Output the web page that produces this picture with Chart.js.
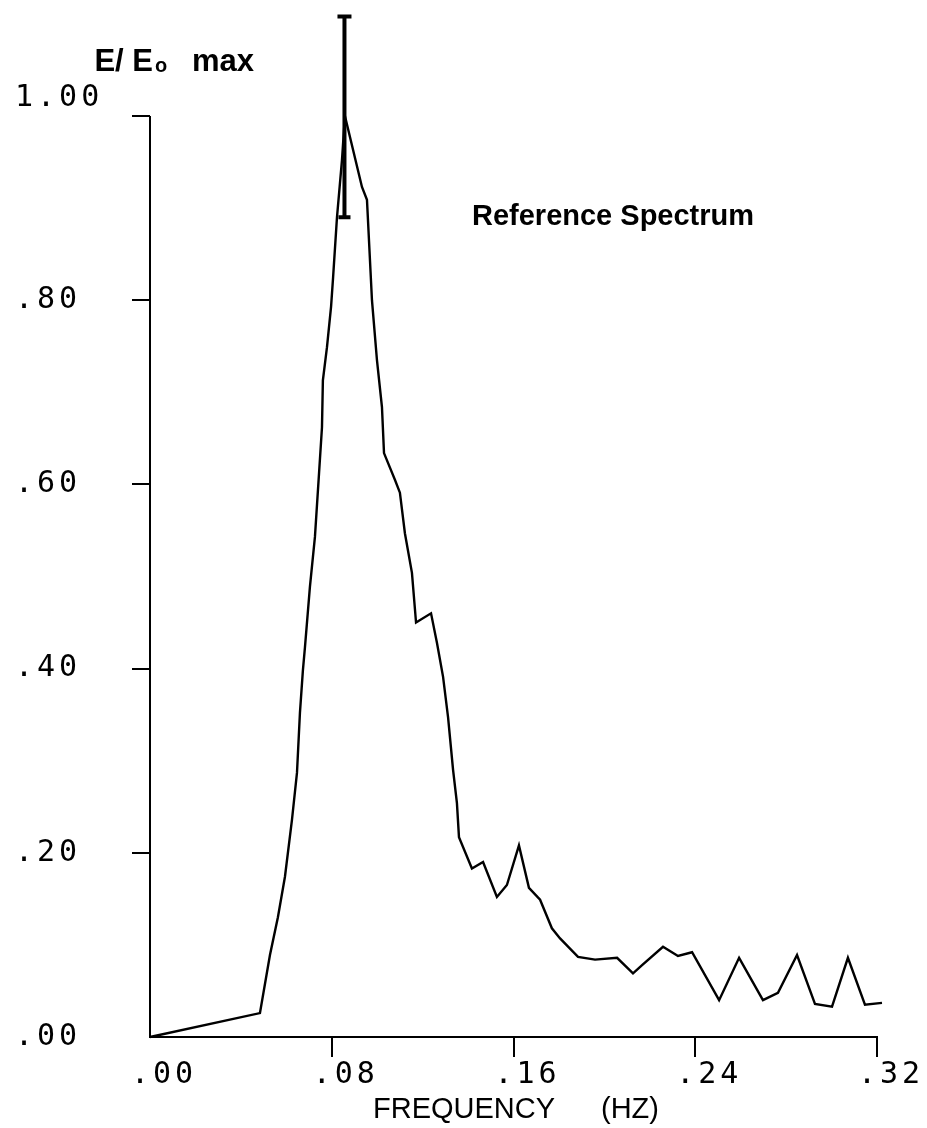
<!DOCTYPE html>
<html>
<head>
<meta charset="utf-8">
<script src="https://cdn.jsdelivr.net/npm/chart.js@4/dist/chart.umd.min.js"></script>
<style>
body { margin: 0; background: #fff; }
canvas { display: block; }
</style>
</head>
<body>
<canvas id="spec" width="927" height="1128"></canvas>
<script>
// frequency (Hz) and normalised energy E/Eo max
const freqs = [0.000, 0.0484, 0.0528, 0.0563, 0.0594, 0.0625, 0.0647, 0.0660, 0.0673, 0.0682,
  0.0704, 0.0726, 0.0744, 0.0757, 0.0761, 0.0779, 0.0797, 0.0806, 0.0823, 0.0845,
  0.0858, 0.0933, 0.0955, 0.0977, 0.0999, 0.1021, 0.1030, 0.1078, 0.1100, 0.1122,
  0.1153, 0.1171, 0.1237, 0.1263, 0.1290, 0.1312, 0.1334, 0.1351, 0.1360, 0.1417,
  0.1466, 0.1527, 0.1571, 0.1624, 0.1668, 0.1717, 0.1769, 0.1805, 0.1884, 0.1959,
  0.2056, 0.2126, 0.2166, 0.2258, 0.2324, 0.2386, 0.2505, 0.2593, 0.2698, 0.2764,
  0.2848, 0.2927, 0.3002, 0.3072, 0.3147, 0.3222];
const energy = [0.000, 0.026, 0.089, 0.130, 0.174, 0.236, 0.287, 0.352, 0.398, 0.423,
  0.489, 0.543, 0.612, 0.662, 0.713, 0.749, 0.793, 0.825, 0.890, 0.952,
  1.000, 0.923, 0.909, 0.800, 0.735, 0.684, 0.634, 0.605, 0.591, 0.547,
  0.504, 0.450, 0.460, 0.428, 0.391, 0.347, 0.290, 0.254, 0.217, 0.183,
  0.190, 0.152, 0.165, 0.208, 0.162, 0.149, 0.118, 0.107, 0.087, 0.084,
  0.086, 0.069, 0.078, 0.098, 0.088, 0.092, 0.040, 0.086, 0.040, 0.048,
  0.089, 0.036, 0.033, 0.086, 0.035, 0.037];

const xTicks = [0, 0.08, 0.16, 0.24, 0.32];
const yTicks = [0, 0.2, 0.4, 0.6, 0.8, 1.0];

// confidence bar at the spectral peak
const errFreq = 0.0856;
const errLow = 0.89;
const errHigh = 1.108;

const fmt = v => v >= 1 ? "1.00" : "." + String(Math.round(v * 100)).padStart(2, "0");

const tickFont = { family: "DejaVu Sans Mono", size: 30 };

const extras = {
  id: "extras",
  beforeDraw(chart) {
    chart.ctx.letterSpacing = "4px";
  },
  afterDraw(chart) {
    const ctx = chart.ctx;
    const x = chart.scales.x, y = chart.scales.y;
    ctx.save();
    ctx.letterSpacing = "0px";
    ctx.strokeStyle = "#000";
    ctx.fillStyle = "#000";

    // y axis line only from 0 to 1.00
    ctx.lineWidth = 2;
    ctx.beginPath();
    ctx.moveTo(x.left, y.getPixelForValue(0));
    ctx.lineTo(x.left, y.getPixelForValue(1));
    ctx.stroke();

    // error bar
    const ex = x.getPixelForValue(errFreq);
    const et = y.getPixelForValue(errHigh), eb = y.getPixelForValue(errLow);
    ctx.lineWidth = 4;
    ctx.beginPath();
    ctx.moveTo(ex, et); ctx.lineTo(ex, eb);
    ctx.moveTo(ex - 7, et); ctx.lineTo(ex + 7, et);
    ctx.moveTo(ex - 6, eb); ctx.lineTo(ex + 6, eb);
    ctx.stroke();

    // text
    ctx.textBaseline = "alphabetic";
    ctx.textAlign = "left";
    ctx.font = "bold 29px 'Liberation Sans'";
    ctx.fillText("Reference Spectrum", 472, 225);

    ctx.font = "bold 31px 'Liberation Sans'";
    const w = ctx.measureText("E/ E").width;
    ctx.fillText("E/ E", 153 - w, 71);
    ctx.font = "bold 20px 'Liberation Sans'";
    ctx.fillText("o", 155, 72);
    ctx.font = "bold 31px 'Liberation Sans'";
    ctx.fillText("max", 192, 71);

    ctx.font = "29px 'Liberation Sans'";
    ctx.fillText("FREQUENCY", 373, 1118);
    ctx.fillText("(HZ)", 601, 1118);
    ctx.restore();
  }
};

new Chart(document.getElementById("spec"), {
  type: "scatter",
  data: {
    datasets: [{
      data: freqs.map((f, i) => ({ x: f, y: energy[i] })),
      showLine: true,
      borderColor: "#000",
      borderWidth: 2.4,
      pointRadius: 0,
      tension: 0,
      clip: 12
    }]
  },
  options: {
    responsive: false,
    animation: false,
    events: [],
    layout: { padding: { top: 24, right: 50, left: 15, bottom: 0 } },
    plugins: { legend: { display: false }, tooltip: { enabled: false } },
    scales: {
      x: {
        type: "linear",
        min: 0,
        max: 0.32,
        afterBuildTicks: s => { s.ticks = xTicks.map(v => ({ value: v })); },
        afterFit: s => { s.height = 91; },
        border: { display: true, color: "#000", width: 2 },
        grid: {
          drawOnChartArea: false,
          tickLength: 20,
          lineWidth: 2,
          tickColor: c => c.tick && c.tick.value === 0 ? "rgba(0,0,0,0)" : "#000"
        },
        ticks: {
          color: "#000",
          font: tickFont,
          padding: 0,
          labelOffset: 14,
          maxRotation: 0,
          autoSkip: false,
          callback: v => fmt(v)
        }
      },
      y: {
        min: 0,
        max: 1.0836,
        afterBuildTicks: s => { s.ticks = yTicks.map(v => ({ value: v })); },
        afterFit: s => { s.width = 135; },
        border: { display: false },
        grid: {
          drawOnChartArea: false,
          tickLength: 18,
          lineWidth: 2,
          tickColor: c => c.tick && c.tick.value === 0 ? "rgba(0,0,0,0)" : "#000"
        },
        ticks: {
          color: "#000",
          font: tickFont,
          crossAlign: "far",
          autoSkip: false,
          // the top label sits a little above its tick in the original
          callback: v => v >= 1 ? [fmt(v), ""] : fmt(v)
        }
      }
    }
  },
  plugins: [extras]
});
</script>
</body>
</html>
